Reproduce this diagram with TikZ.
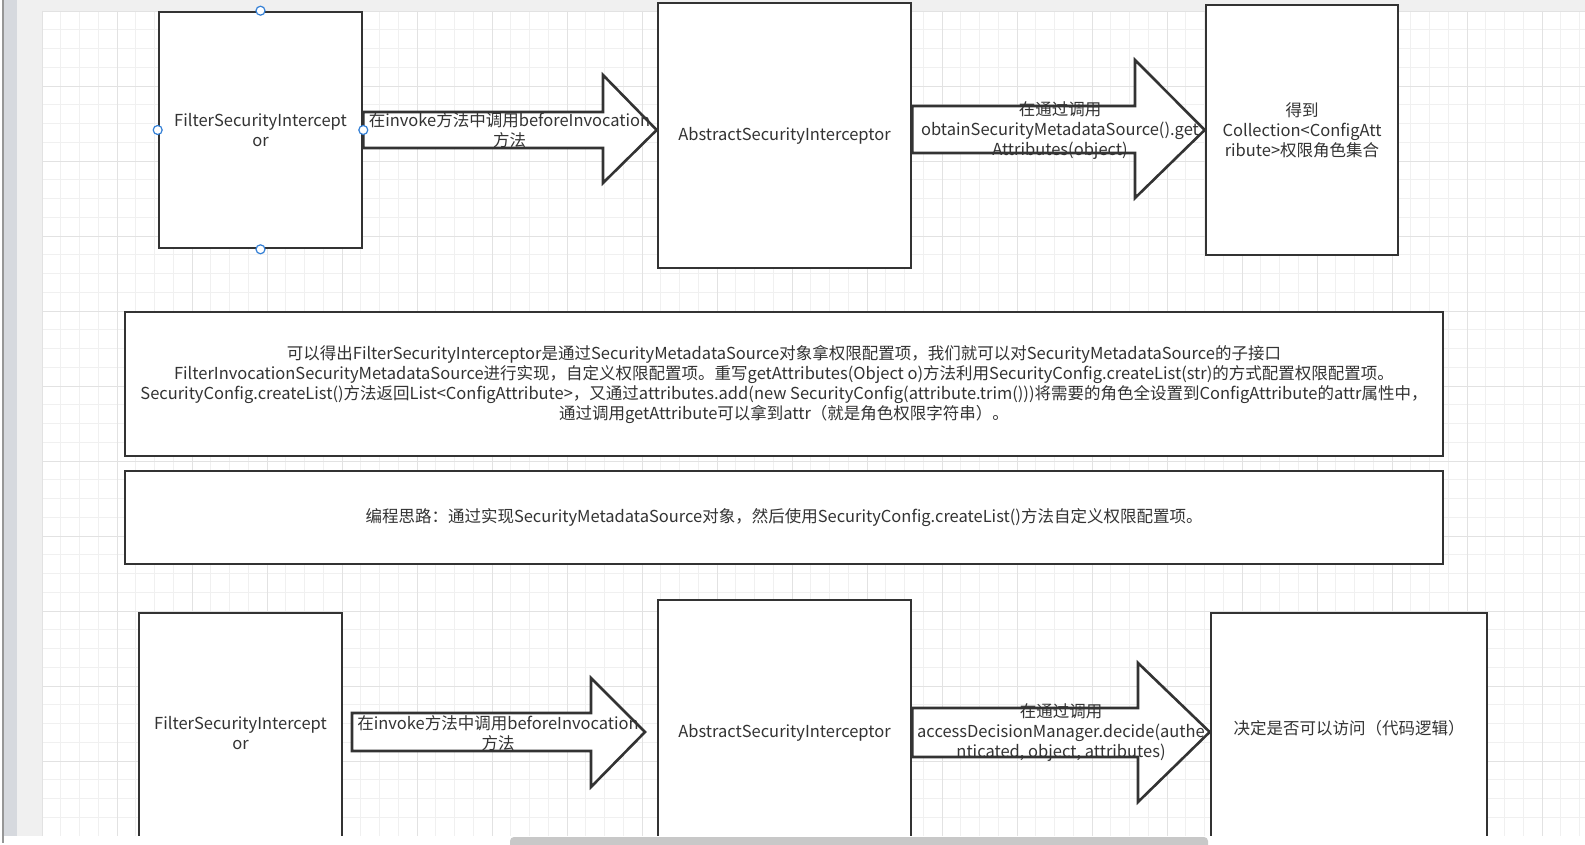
\documentclass[tikz,border=0pt]{standalone}
\usepackage{fontspec}
\newfontfamily\cjk{Noto Sans CJK SC}
\definecolor{ink}{RGB}{51,51,51}
\definecolor{gridminor}{RGB}{240,240,240}
\definecolor{gridmajor}{RGB}{226,226,226}
\definecolor{stripblue}{RGB}{214,217,222}
\definecolor{stripgray}{RGB}{240,240,240}
\definecolor{handleblue}{RGB}{52,128,214}
\definecolor{scrollgray}{RGB}{200,200,200}
\begin{document}
\begin{tikzpicture}[x=1pt,y=-1pt,
  txt/.style={font=\cjk\fontsize{16.5}{20}\selectfont, text=ink, align=center, inner sep=0pt},
  box/.style={txt, draw=ink, line width=2.6pt, fill=white},
  blockarrow/.style={draw=ink, line width=2.6pt, fill=white, line join=miter},
  lbl/.style={txt},
  handle/.style={circle, draw=handleblue, fill=white, line width=1.2pt, minimum size=9pt, inner sep=0pt}]
\useasboundingbox (0,0) rectangle (1585,845);
% window background
\fill[white] (0,0) rectangle (1585,845);
\fill[stripgray] (17,0) rectangle (1585,11);
% canvas with grid
\fill[white] (42,11) rectangle (1585,836);
\foreach \i in {0,...,82} \draw[gridminor, line width=0.9pt] ({42+18.75*\i},11) -- ({42+18.75*\i},836);
\foreach \j in {0,...,44} \draw[gridminor, line width=0.9pt] (42,{11+18.75*\j}) -- (1585,{11+18.75*\j});
\foreach \i in {0,4,...,80} \draw[gridmajor, line width=0.9pt] ({42+18.75*\i},11) -- ({42+18.75*\i},836);
\foreach \j in {0,4,...,44} \draw[gridmajor, line width=0.9pt] (42,{11+18.75*\j}) -- (1585,{11+18.75*\j});

% ---- top row ----
\node[box, minimum width=203pt, minimum height=236pt] (b1) at (260.5,130) {FilterSecurityIntercept\\or};
\node[box, minimum width=253pt, minimum height=265pt] (b2) at (784.5,135.5) {AbstractSecurityInterceptor};
\node[box, minimum width=192pt, minimum height=250pt] (b3) at (1302,130) {得到\\Collection<ConfigAtt\\ribute>权限角色集合};

\draw[blockarrow] (b1.east |- 0,112) -- (603,112) -- (603,75) -- (b2.west |- 0,130) -- (603,183) -- (603,148) -- (b1.east |- 0,148) -- cycle;
\draw[blockarrow] (b2.east |- 0,106) -- (1135,106) -- (1135,60) -- (b3.west |- 0,130) -- (1135,198) -- (1135,153) -- (b2.east |- 0,153) -- cycle;

\node[lbl] (l1) at (509.5,130.5) {在invoke方法中调用beforeInvocation\\方法};
\node[lbl] (l2) at (1060,130.3) {在通过调用\\obtainSecurityMetadataSource().get\\Attributes(object)};

% selection handles
\node[handle] (h1) at (b1.north) {};
\node[handle] (h2) at (b1.west) {};
\node[handle] (h3) at (b1.east) {};
\node[handle] (h4) at (b1.south) {};

% ---- text boxes ----
\node[box, minimum width=1318pt, minimum height=144pt] (tb1) at (784,384) {可以得出FilterSecurityInterceptor是通过SecurityMetadataSource对象拿权限配置项，我们就可以对SecurityMetadataSource的子接口\\FilterInvocationSecurityMetadataSource进行实现，自定义权限配置项。重写getAttributes(Object o)方法利用SecurityConfig.createList(str)的方式配置权限配置项。\\SecurityConfig.createList()方法返回List<ConfigAttribute>，又通过attributes.add(new SecurityConfig(attribute.trim()))将需要的角色全设置到ConfigAttribute的attr属性中，\\通过调用getAttribute可以拿到attr（就是角色权限字符串）。};
\node[box, minimum width=1318pt, minimum height=93pt] (tb2) at (784,517.5) {编程思路：通过实现SecurityMetadataSource对象，然后使用SecurityConfig.createList()方法自定义权限配置项。};

% ---- bottom row ----
\node[box, minimum width=203pt, minimum height=240pt] (c1) at (240.5,733) {FilterSecurityIntercept\\or};
\node[box, minimum width=253pt, minimum height=266pt] (c2) at (784.5,733) {AbstractSecurityInterceptor};
\node[box, minimum width=276pt, minimum height=230pt] (c3) at (1349,728) {决定是否可以访问（代码逻辑）};

\coordinate (a3s) at (352,713);
\coordinate (a3e) at (645,732);
\draw[blockarrow] (a3s) -- (591,713) -- (591,678) -- (a3e) -- (591,787) -- (591,751) -- (a3s |- 0,751) -- cycle;
\draw[blockarrow] (c2.east |- 0,708) -- (1138,708) -- (1138,663) -- (c3.west |- 0,732) -- (1138,802) -- (1138,757) -- (c2.east |- 0,757) -- cycle;

\node[lbl] (l3) at (498,733.5) {在invoke方法中调用beforeInvocation\\方法};
\node[lbl] (l4) at (1061,733) {在通过调用\\accessDecisionManager.decide(authe\\nticated, object, attributes)};

% ---- window chrome ----
\fill[white] (4,836) rectangle (1585,845);
\fill[scrollgray, rounded corners=4pt] (510,837) rectangle (1208,853);
\fill[stripblue] (3.5,0) rectangle (17,836);
\fill[stripgray] (17,11) rectangle (42,836);
\draw[color={rgb,255:red,150;green,150;blue,150}, line width=1.2pt] (3,0) -- (3,843);
\end{tikzpicture}
\end{document}
